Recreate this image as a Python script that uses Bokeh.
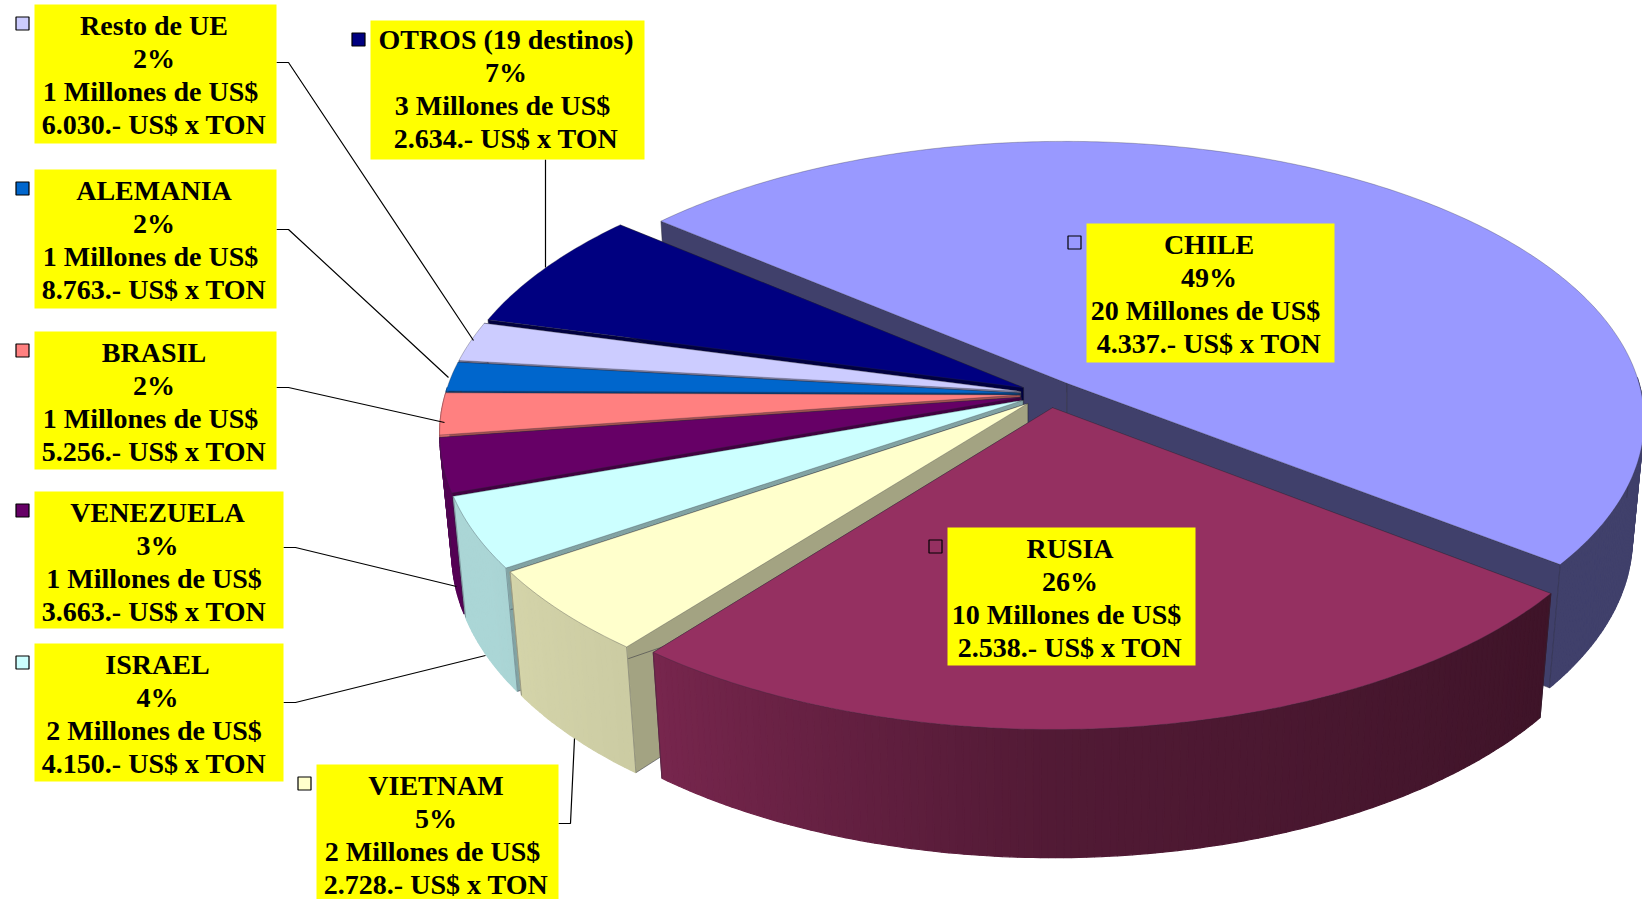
import numpy as np
from bokeh.plotting import figure
from bokeh.models import Range1d
from bokeh.core.properties import value
from bokeh.embed import file_html
from bokeh.resources import INLINE

# ---- data ----
names = ["CHILE", "RUSIA", "VIETNAM", "ISRAEL", "VENEZUELA", "BRASIL", "ALEMANIA", "Resto de UE", "OTROS (19 destinos)"]
shares = [49.4, 25.2, 4.9, 4.1, 3.1, 2.4, 1.7, 2.3, 7.0]
pct_labels = ["49%", "26%", "5%", "4%", "3%", "2%", "2%", "2%", "7%"]
money_labels = ["20 Millones  de US$", "10 Millones  de US$", "2 Millones  de US$", "2 Millones  de US$",
                "1 Millones  de US$", "1 Millones  de US$", "1 Millones  de US$", "1 Millones  de US$", "3 Millones  de US$"]
price_labels = ["4.337.- US$ x TON", "2.538.- US$ x TON", "2.728.- US$ x TON", "4.150.-  US$ x TON",
                "3.663.-  US$ x TON", "5.256.- US$ x TON", "8.763.- US$ x TON", "6.030.- US$ x TON", "2.634.- US$ x TON"]
colors = ["#9999FF", "#953061", "#FFFFCC", "#CCFFFF", "#660066", "#FF8080", "#0066CC", "#CCCCFF", "#000080"]

# ---- layout (page pixels) ----
boxes = [(1086, 1334, 223, 362), (947, 1195, 527, 665), (316, 558, 764, 899), (34, 283, 643, 781),
         (34, 283, 491, 628), (34, 276, 331, 469), (34, 276, 169, 308), (34, 276, 4, 143), (370, 644, 20, 159)]
text_top = [21, 21, 21, 21, 21, 21, 21, 21, 19]
leaders = [None, None,
           ([558, 570, 574], [823, 823, 738]),
           ([283, 295, 485], [702, 702, 655]),
           ([283, 295, 456], [547, 547, 586]),
           ([276, 288, 444], [387, 387, 422]),
           ([276, 288, 448], [229, 229, 377]),
           ([276, 288, 473], [62, 62, 340]),
           ([545, 545], [159, 267])]

START = 310.0
CX, CY, A, B, K = 1048.5, 393.5, 575.0, 276.0, 0.13
EXPLODE, H, M = 0.05, 120.0, 0.02
FONT = value("Liberation Serif")
FS = "28px"

def top_xy(u, v):
    d = 1 + K * v
    return CX + A * u / d, CY - B * v / d

def bot_xy(u, v):
    d = 1 + K * v + M
    return CX + A * u / d, CY + (H - B * v) / d

def shade(hex_c, f):
    r, g, b = [int(hex_c[i:i + 2], 16) for i in (1, 3, 5)]
    return "#%02x%02x%02x" % (int(r * f), int(g * f), int(b * f))

wall_shade_a = [90, 127, 180, 218, 240, 300]
wall_shade_f = [0.42, 0.42, 0.55, 0.80, 0.84, 0.84]
EDGE = "#2a2a3a"

p = figure(width=1642, height=899, output_backend="svg", toolbar_location=None,
           x_range=Range1d(0, 1642), y_range=Range1d(899, 0), min_border=0,
           x_axis_location=None, y_axis_location=None, outline_line_color=None,
           background_fill_color="white", border_fill_color="white")
p.grid.visible = False

total = sum(shares)
sweeps = [s / total * 360 for s in shares]
starts = START + np.cumsum([0] + sweeps[:-1])

# back-to-front: Chile, then the small slices going anticlockwise, Russia last
order = [0, 8, 7, 6, 5, 4, 3, 2, 1]
for i in order:
    a0, a1 = starts[i], starts[i] + sweeps[i]
    mid = np.radians((a0 + a1) / 2)
    ou, ov = EXPLODE * np.sin(mid), EXPLODE * np.cos(mid)
    th = np.radians(np.linspace(a0, a1, max(8, int(sweeps[i] * 1.5))))
    ru, rv = ou + np.sin(th), ov + np.cos(th)
    cut_f = 0.42 if i == 0 else 0.64
    cut_c = shade(colors[i], cut_f) if i != 8 else "#000040"
    # radial cut faces
    for j in (0, -1):
        tx0, ty0 = top_xy(ou, ov)
        tx1, ty1 = top_xy(ru[j], rv[j])
        bx1, by1 = bot_xy(ru[j], rv[j])
        bx0, by0 = bot_xy(ou, ov)
        p.patch([tx0, tx1, bx1, bx0], [ty0, ty1, by1, by0], fill_color=cut_c, line_color=EDGE, line_width=0.5)
    # outer wall in shaded strips, only the part that faces the viewer
    deg = np.degrees(th) % 360
    for j in range(len(th) - 1):
        if np.cos(th[j]) > 0.02 and np.cos(th[j + 1]) > 0.02:
            continue
        f = float(np.interp((deg[j] + deg[j + 1]) / 2, wall_shade_a, wall_shade_f))
        c = shade(colors[i], f)
        tx, ty = top_xy(ru[j:j + 2], rv[j:j + 2])
        bx, by = bot_xy(ru[j:j + 2], rv[j:j + 2])
        p.patch([tx[0], tx[1], bx[1], bx[0]], [ty[0], ty[1], by[1], by[0]], fill_color=c, line_color=c, line_width=1.2)
    vis = (np.cos(th) <= 0.02)
    if vis.any():
        bx, by = bot_xy(ru[vis], rv[vis])
        tx, ty = top_xy(ru[vis], rv[vis])
        for q in [0, -1]:
            p.line([tx[q], bx[q]], [ty[q], by[q]], line_color=EDGE, line_width=0.5, line_alpha=0.7)
    # top face
    xs, ys = top_xy(np.r_[ou, ru], np.r_[ov, rv])
    p.patch(xs, ys, fill_color=colors[i], line_color=EDGE, line_width=0.5, line_alpha=0.6)

# leader lines
for ld in leaders:
    if ld:
        p.line(ld[0], ld[1], line_color="black", line_width=1.2)

# label boxes, keys, text
for i, (x0, x1, y0, y1) in enumerate(boxes):
    p.quad(left=[x0], right=[x1], top=[y0], bottom=[y1], fill_color="#FFFF00", line_color=None)
    p.scatter([x0 - 12], [y0 + 19], marker="square", size=13, fill_color=colors[i], line_color="black", line_width=1.2)
    xc = (x0 + x1) / 2 - 1.5
    for n, txt in enumerate([names[i], pct_labels[i], money_labels[i], price_labels[i]]):
        p.text([xc], [y0 + text_top[i] + 33 * n], text=[txt], text_font=FONT, text_font_style="bold", text_font_size=FS,
               text_align="center", text_baseline="middle", text_color="black")

open("out.html", "w").write(file_html(p, INLINE))
